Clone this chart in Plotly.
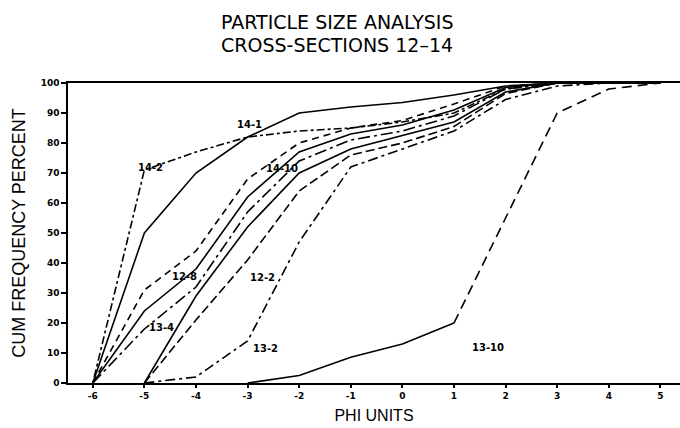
import plotly.graph_objects as go

# Phi size classes (x axis)
phi = [-6, -5, -4, -3, -2, -1, 0, 1, 2, 3, 4, 5]

# Cumulative frequency percent for each sample (None = not yet started)
pct_14_2 = [0, 71, 77, 82, 84, 85, 87, 90, 98, 100, 100, 100]
pct_14_1 = [0, 50, 70, 82, 90, 92, 93.5, 96, 99, 100, 100, 100]
pct_12_8 = [0, 31, 44, 68, 80, 85, 87.5, 93, 99, 100, 100, 100]
pct_14_10 = [0, 24, 38, 62, 77, 83, 86, 91, 98.5, 100, 100, 100]
pct_other = [0, 18, 32, 57, 74, 81, 84, 89, 98, 100, 100, 100]
pct_13_4 = [None, 0, 29, 52, 70, 78, 82.5, 87, 97, 100, 100, 100]
pct_12_2 = [None, 0, 21, 41, 64, 76, 80, 85.5, 96.5, 100, 100, 100]
pct_13_2 = [None, 0, 2, 14, 47, 72, 78, 84, 94.5, 99, 100, 100]
pct_13_10 = [None, None, None, 0, 2.5, 8.6, 13, 20, 55, 90, 98, 100]

# Curve labels: text, phi, percent
label_text = ["14-2", "14-1", "14-10", "12-8", "13-4", "12-2", "13-2", "13-10"]
label_phi = [-4.88, -2.96, -2.34, -4.22, -4.66, -2.71, -2.65, 1.66]
label_pct = [71.9, 86.2, 71.6, 35.6, 18.6, 35.2, 11.6, 11.9]

series = [
    (pct_14_2, "3px,3px,8px,3px"),
    (pct_14_1, "solid"),
    (pct_12_8, "7px,5px"),
    (pct_14_10, "solid"),
    (pct_other, "12px,4px,3px,4px"),
    (pct_13_4, "solid"),
    (pct_12_2, "9px,4px"),
    (pct_13_2, "10px,4px,3px,4px"),
]

fig = go.Figure()
for ys, dash in series:
    fig.add_trace(go.Scatter(x=phi, y=ys, mode="lines",
                             line=dict(color="black", width=1.6, dash=dash),
                             hoverinfo="skip"))

# 13-10: solid through phi 1, dashed beyond
split = phi.index(1)
fig.add_trace(go.Scatter(x=phi[:split + 1], y=pct_13_10[:split + 1], mode="lines",
                         line=dict(color="black", width=1.6), hoverinfo="skip"))
fig.add_trace(go.Scatter(x=phi[split:], y=pct_13_10[split:], mode="lines",
                         line=dict(color="black", width=1.6, dash="10px,6px"),
                         hoverinfo="skip"))

for t, xv, yv in zip(label_text, label_phi, label_pct):
    fig.add_annotation(x=xv, y=yv, text=t, showarrow=False,
                       font=dict(family="DejaVu Sans", size=10, color="black", weight="bold"))

title_font = dict(family="DejaVu Sans", size=19, color="black")
fig.add_annotation(xref="paper", yref="paper", x=0.44, y=1.0, yshift=61,
                   yanchor="middle", text="PARTICLE SIZE ANALYSIS", showarrow=False,
                   font=title_font)
fig.add_annotation(xref="paper", yref="paper", x=0.44, y=1.0, yshift=38,
                   yanchor="middle", text="CROSS-SECTIONS 12\u201314", showarrow=False,
                   font=title_font)

fig.update_layout(
    width=680, height=428,
    margin=dict(l=68, r=0, t=83, b=45),
    paper_bgcolor="white", plot_bgcolor="white",
    showlegend=False,
    xaxis=dict(range=[-6.48, 5.38], tickvals=phi, ticktext=[str(v) for v in phi],
               showgrid=False, zeroline=False, showline=True, linecolor="black",
               linewidth=2, mirror=True, ticks="outside", ticklen=3, tickwidth=1.5,
               tickcolor="black",
               tickfont=dict(family="DejaVu Sans", size=9, color="black", weight="bold"),
               title=dict(text="PHI UNITS", standoff=10,
                          font=dict(family="Liberation Sans", size=16, color="black"))),
    yaxis=dict(range=[0, 100], tickvals=list(range(0, 101, 10)),
               showgrid=False, zeroline=False, showline=True, linecolor="black",
               linewidth=1.5, ticks="outside", ticklen=5, tickwidth=1.5,
               tickcolor="black",
               tickfont=dict(family="DejaVu Sans", size=9, color="black", weight="bold"),
               title=dict(text="CUM FREQUENCY PERCENT", standoff=10,
                          font=dict(family="Liberation Sans", size=18, color="black"))),
)

fig.write_html("out.html")
